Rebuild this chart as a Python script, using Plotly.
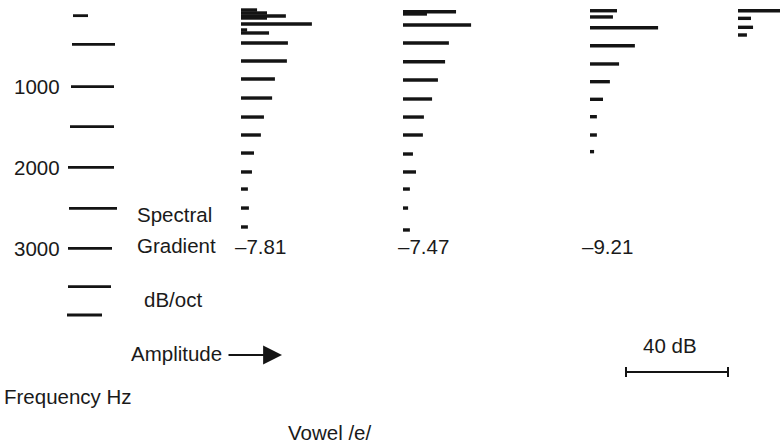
import plotly.graph_objects as go

# ---------------- data ----------------
# Spectrum 1 (spectral gradient -7.81 dB/oct)
freq1 = [52, 89, 126, 151, 225, 299, 336, 460, 682, 905, 1140, 1375, 1597, 1820, 2054, 2265, 2500, 2734]
amp1 = [6.3, 10.2, 17.6, 10.2, 27.8, 2.4, 11.0, 18.4, 18.0, 13.3, 12.2, 9.0, 7.8, 5.1, 4.3, 2.7, 3.1, 2.7]
# Spectrum 2 (-7.47 dB/oct)
freq2 = [73, 101, 237, 460, 691, 917, 1152, 1375, 1597, 1832, 2054, 2265, 2500, 2771]
amp2 = [20.8, 9.4, 26.7, 18.0, 16.5, 13.7, 11.4, 8.2, 7.8, 3.9, 5.1, 2.7, 2.0, 2.7]
# Spectrum 3 (-9.21 dB/oct)
freq3 = [61, 138, 271, 493, 719, 938, 1156, 1371, 1597, 1803]
amp3 = [10.6, 9.0, 26.7, 17.6, 11.4, 7.8, 5.1, 2.7, 2.7, 1.6]
# Spectrum 4 (partly cut off at right edge)
freq4 = [61, 155, 266, 361]
amp4 = [19.6, 5.1, 5.9, 3.5]

gradients = ["–7.81", "–7.47", "–9.21"]

# frequency ruler on the left
ruler_freq = [122, 476, 1000, 1494, 1996, 2503, 2998, 3472, 3822]
ruler_labels = {1000: "1000", 1996: "2000", 2998: "3000"}

scale_db = 40

# ---------------- layout helpers ----------------
W, H = 780, 445
PX_PER_DB = 2.55
Y0_PX, PX_PER_HZ = 5.8, 0.0809


def hz_at(py):
    return (py - Y0_PX) / PX_PER_HZ


def db_at(px):
    return px / PX_PER_DB


col_base_px = [241, 403, 590, 738]
ruler_px = [(73, 88), (72, 115), (71, 114), (70, 114), (68, 114), (69, 117), (68, 112), (68, 111), (67, 102)]

fig = go.Figure()
BLACK = "#141414"

spectra = [(freq1, amp1), (freq2, amp2), (freq3, amp3), (freq4, amp4)]
for (fr, am), base in zip(spectra, col_base_px):
    b = db_at(base)
    xs, ys = [], []
    for f, a in zip(fr, am):
        xs += [b, b + a, None]
        ys += [f, f, None]
    fig.add_trace(go.Scatter(x=xs, y=ys, mode="lines", line=dict(color=BLACK, width=3.4),
                             hoverinfo="skip", showlegend=False))

# ruler
xs, ys = [], []
for f, (a, b) in zip(ruler_freq, ruler_px):
    xs += [db_at(a), db_at(b), None]
    ys += [f, f, None]
fig.add_trace(go.Scatter(x=xs, y=ys, mode="lines", line=dict(color=BLACK, width=2.8),
                         hoverinfo="skip", showlegend=False))

FONT = dict(family="Liberation Sans, Arial, sans-serif", size=20.5, color="#1a1a1a")


def txt(s, px, py, xanchor="left"):
    fig.add_annotation(text=s, x=px / W, y=1 - py / H, xref="paper", yref="paper",
                       xanchor=xanchor, yanchor="middle", showarrow=False, font=FONT)


for f, lab in ruler_labels.items():
    py = Y0_PX + f * PX_PER_HZ
    txt(lab, 62, py, "right")

txt("Spectral", 135, 214)
txt("Gradient", 135, 245)
txt("dB/oct", 142, 299)
for g, px in zip(gradients, [233, 396, 580]):
    txt(g, px, 246)

txt("Amplitude", 129, 353)
txt("40 dB", 641, 345)
txt("Frequency Hz", 2, 396)
txt("Vowel /e/", 286, 432)

# amplitude arrow
fig.add_annotation(x=282 / W, y=1 - 355 / H, xref="paper", yref="paper",
                   ax=-55, ay=0, text="", showarrow=True, arrowhead=2,
                   arrowsize=2.1, arrowwidth=1.8, arrowcolor=BLACK)

# 40 dB scale bar
sx0 = db_at(626)
sy = hz_at(372)
fig.add_shape(type="line", x0=sx0, x1=sx0 + scale_db, y0=sy, y1=sy, xref="x", yref="y",
              line=dict(color=BLACK, width=2))
for xx in (sx0, sx0 + scale_db):
    fig.add_shape(type="line", x0=xx, x1=xx, y0=hz_at(367), y1=hz_at(377), xref="x", yref="y",
                  line=dict(color=BLACK, width=2))

fig.update_xaxes(range=[0, db_at(W)], visible=False, fixedrange=True)
fig.update_yaxes(range=[hz_at(H), hz_at(0)], visible=False, fixedrange=True)
fig.update_layout(width=W, height=H, margin=dict(l=0, r=0, t=0, b=0),
                  paper_bgcolor="white", plot_bgcolor="white")

fig.write_html("out.html")
